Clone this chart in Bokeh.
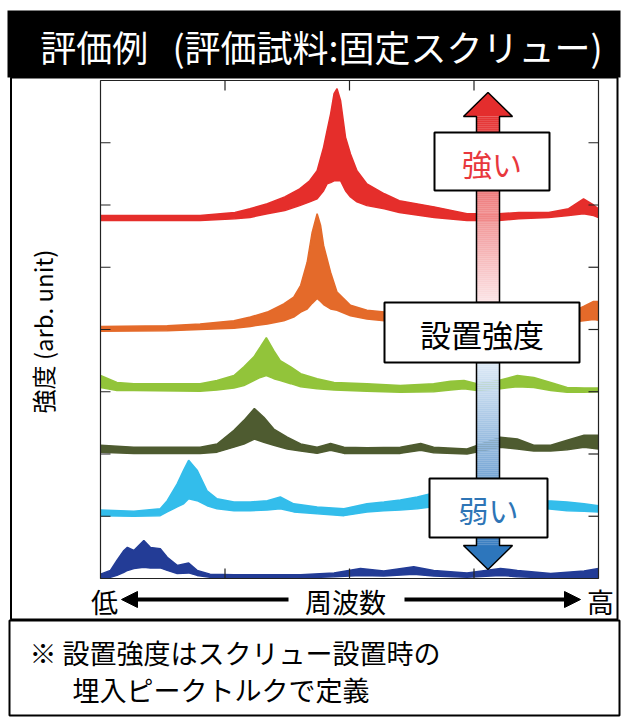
import numpy as np
from bokeh.plotting import figure
from bokeh.models import Range1d, Arrow, NormalHead
from bokeh.core.properties import value
from bokeh.embed import file_html
from bokeh.resources import INLINE

# ---------------- data ----------------
# frequency axis: arbitrary 0..100, intensity: arbitrary 0..8 (offset spectra)
red_x = [0, 20, 27, 30, 33.5, 37, 40, 42, 43.5, 44.8, 45.5, 46.2, 46.9, 47.5, 48.2, 49.2, 50.2, 51.5, 53.5, 57, 60, 67, 73.6, 80, 84, 90, 94, 97, 99, 100]
red_lo = [5.75, 5.75, 5.78, 5.80, 5.86, 5.91, 5.99, 6.05, 6.10, 6.23, 6.34, 6.36, 6.39, 6.39, 6.39, 6.23, 6.13, 6.05, 5.99, 5.94, 5.88, 5.80, 5.75, 5.75, 5.78, 5.80, 5.83, 5.86, 5.83, 5.80]
red_hi = [5.83, 5.83, 5.88, 5.94, 6.02, 6.13, 6.26, 6.39, 6.55, 6.93, 7.20, 7.46, 7.79, 7.87, 7.68, 7.09, 6.82, 6.55, 6.34, 6.18, 6.07, 5.97, 5.86, 5.86, 5.88, 5.88, 5.94, 6.10, 6.00, 5.94]

orange_x = [0, 13.4, 20, 26.8, 30.1, 33.5, 36.8, 38.8, 40.2, 41.5, 42.5, 43.5, 44.2, 44.8, 46.2, 47.5, 50.2, 53.5, 57, 65, 75, 85, 92, 95, 97, 99, 100]
orange_lo = [3.97, 3.98, 4.00, 4.02, 4.05, 4.09, 4.14, 4.20, 4.28, 4.33, 4.42, 4.50, 4.45, 4.40, 4.33, 4.31, 4.22, 4.17, 4.14, 4.08, 4.05, 4.06, 4.08, 4.12, 4.14, 4.16, 4.15]
orange_hi = [4.05, 4.06, 4.09, 4.14, 4.20, 4.28, 4.41, 4.52, 4.71, 5.08, 5.56, 5.86, 5.67, 5.35, 4.92, 4.60, 4.39, 4.31, 4.28, 4.22, 4.18, 4.18, 4.20, 4.30, 4.37, 4.45, 4.45]

green_x = [0, 3.3, 6.7, 20, 23.4, 26.8, 28.8, 30.8, 32.1, 33.3, 34.8, 36.1, 38.2, 40.2, 43.5, 46.9, 53.5, 60.2, 66.9, 70.3, 73, 75.6, 80.3, 83.7, 87, 90.4, 93.7, 97.1, 100]
green_lo = [3.07, 3.02, 3.02, 3.01, 3.03, 3.06, 3.10, 3.18, 3.23, 3.26, 3.21, 3.18, 3.13, 3.08, 3.05, 3.03, 3.01, 2.99, 3.00, 3.03, 3.05, 3.02, 3.05, 3.08, 3.07, 3.02, 2.99, 2.99, 3.00]
green_hi = [3.26, 3.15, 3.13, 3.13, 3.18, 3.26, 3.40, 3.56, 3.72, 3.87, 3.66, 3.50, 3.40, 3.29, 3.21, 3.15, 3.13, 3.10, 3.13, 3.17, 3.18, 3.13, 3.19, 3.26, 3.23, 3.15, 3.07, 3.06, 3.06]

olive_x = [0, 6.7, 20, 23.4, 26.8, 28.8, 30.9, 32.8, 34.8, 37.5, 40.2, 43.5, 46.2, 48.9, 53.5, 60.2, 64.3, 66.9, 73.6, 80.3, 83.7, 87, 90.4, 93.7, 97.1, 100]
olive_lo = [2.03, 2.01, 2.01, 2.03, 2.11, 2.16, 2.24, 2.19, 2.14, 2.08, 2.05, 2.01, 2.06, 2.01, 2.01, 2.01, 2.06, 2.02, 2.00, 2.11, 2.08, 2.05, 2.05, 2.07, 2.11, 2.08]
olive_hi = [2.14, 2.11, 2.11, 2.16, 2.38, 2.54, 2.73, 2.59, 2.40, 2.27, 2.16, 2.11, 2.17, 2.11, 2.10, 2.11, 2.17, 2.11, 2.08, 2.27, 2.24, 2.14, 2.14, 2.22, 2.30, 2.30]

cyan_x = [0, 6.7, 12, 13.4, 15.4, 16.7, 17.7, 19.4, 21.4, 23.4, 26.8, 30.1, 33.5, 36.1, 38.8, 43.5, 48.9, 53.5, 56.9, 60.2, 63.6, 66.3, 72, 80, 88, 89.7, 93.7, 97.1, 100]
cyan_lo = [1.01, 1.00, 1.01, 1.07, 1.15, 1.20, 1.28, 1.25, 1.17, 1.12, 1.09, 1.09, 1.10, 1.12, 1.07, 1.04, 1.01, 1.07, 1.09, 1.10, 1.12, 1.15, 1.16, 1.14, 1.13, 1.12, 1.09, 1.08, 1.07]
cyan_hi = [1.10, 1.08, 1.12, 1.25, 1.52, 1.74, 1.90, 1.74, 1.41, 1.28, 1.23, 1.23, 1.25, 1.31, 1.20, 1.15, 1.12, 1.20, 1.23, 1.26, 1.31, 1.36, 1.36, 1.32, 1.28, 1.25, 1.23, 1.20, 1.17]

navy_x = [0, 2, 3.3, 4.7, 5.4, 6.7, 8.7, 10, 12, 13.4, 15.4, 17.7, 19.4, 22, 26.8, 33.5, 40.2, 46.9, 52.2, 56.9, 62.9, 66.9, 73.6, 80.3, 83.7, 90.4, 97.1, 100]
navy_lo = [0.01, 0.02, 0.05, 0.10, 0.13, 0.16, 0.18, 0.17, 0.17, 0.13, 0.08, 0.09, 0.05, 0.02, 0.02, 0.02, 0.01, 0.03, 0.05, 0.04, 0.07, 0.04, 0.02, 0.05, 0.03, 0.01, 0.02, 0.02]
navy_hi = [0.07, 0.13, 0.29, 0.45, 0.50, 0.45, 0.61, 0.50, 0.48, 0.34, 0.21, 0.25, 0.13, 0.07, 0.06, 0.06, 0.06, 0.09, 0.16, 0.12, 0.19, 0.13, 0.09, 0.16, 0.13, 0.08, 0.12, 0.16]

series_colors = ["#E52E2B", "#E46A2A", "#92C43A", "#4E5B30", "#33BDEB", "#233C96"]

x_ticks = [25, 50, 75]
y_ticks = [1, 2, 3, 4, 5, 6, 7]

title_text = "評価例\u00a0\u00a0\u00a0(評価試料:固定スクリュー)"
y_label = "強度 (arb. unit)"
x_low, x_label, x_high = "低", "周波数", "高"
strong_text, setting_text, weak_text = "強い", "設置強度", "弱い"
note_line1 = "※ 設置強度はスクリュー設置時の"
note_line2 = "埋入ピークトルクで定義"

# ---------------- layout (page pixel geometry) ----------------
W, H = 627, 719
PX0, PY0 = 0, 0                     # page offset of canvas
FX0, FX1 = 100, 598                 # page x of freq 0 and 100
AY0, AY1 = 578, 80                  # page y of intensity 0 and 8
FONT = value("Noto Sans CJK JP")

p = figure(width=W, height=H, output_backend="svg", toolbar_location=None,
           x_range=Range1d(PX0, PX0 + W), y_range=Range1d(PY0 + H, PY0),
           x_axis_location=None, y_axis_location=None, min_border=0,
           background_fill_color="white", border_fill_color="white")
p.outline_line_color = None
p.grid.visible = False

fx_per = (FX1 - FX0) / 100.0
ay_per = (AY0 - AY1) / 8.0
p.extra_x_ranges = {"f": Range1d(0 - (FX0 - PX0) / fx_per, 100 + (PX0 + W - FX1) / fx_per)}
p.extra_y_ranges = {"a": Range1d(0 - (PY0 + H - AY0) / ay_per, 8 + (AY1 - PY0) / ay_per)}
ex = dict(x_range_name="f", y_range_name="a")

# title bar
p.quad(left=[7], right=[620], top=[10], bottom=[77], fill_color="black", line_color=None)
p.text(x=[321], y=[45], text=[title_text], text_color="white", text_font=FONT,
       text_font_size="36px", text_align="center", text_baseline="middle")

# outer box
p.quad(left=[10.5], right=[617], top=[77], bottom=[619], fill_color=None,
       line_color="black", line_width=2)

# spectra
for xs, lo, hi, c in [(red_x, red_lo, red_hi, series_colors[0]),
                      (orange_x, orange_lo, orange_hi, series_colors[1]),
                      (green_x, green_lo, green_hi, series_colors[2]),
                      (olive_x, olive_lo, olive_hi, series_colors[3]),
                      (cyan_x, cyan_lo, cyan_hi, series_colors[4]),
                      (navy_x, navy_lo, navy_hi, series_colors[5])]:
    p.varea(x=xs, y1=lo, y2=hi, fill_color=c, **ex)
    p.line(x=xs, y=lo, line_color=c, line_width=1.5, **ex)
    p.line(x=xs, y=hi, line_color=c, line_width=1.5, **ex)

# plot frame and inward ticks
p.quad(left=[0], right=[100], bottom=[0], top=[8], fill_color=None,
       line_color="#222222", line_width=1.2, **ex)
tl_a = 10 / ay_per
tl_f = 10 / fx_per
n = len(x_ticks)
p.segment(x0=x_ticks, y0=[0] * n, x1=x_ticks, y1=[tl_a] * n, line_color="#222222", line_width=1.2, **ex)
p.segment(x0=x_ticks, y0=[8] * n, x1=x_ticks, y1=[8 - tl_a] * n, line_color="#222222", line_width=1.2, **ex)
m = len(y_ticks)
p.segment(x0=[0] * m, y0=y_ticks, x1=[tl_f] * m, y1=y_ticks, line_color="#222222", line_width=1.2, **ex)
p.segment(x0=[100] * m, y0=y_ticks, x1=[100 - tl_f] * m, y1=y_ticks, line_color="#222222", line_width=1.2, **ex)

# gradient arrow
def lerp(c0, c1, t):
    t = min(max(t, 0.0), 1.0)
    return "#%02x%02x%02x" % tuple(int(round(a + (b - a) * t)) for a, b in zip(c0, c1))

SX0, SX1, SC = 476, 499, 487.5
HX0, HX1 = 463, 512
red0, red1 = (228, 45, 45), (252, 230, 232)
blue0, blue1 = (220, 233, 246), (44, 116, 188)

ys = np.arange(116, 302, 2)
p.quad(left=[SX0] * len(ys), right=[SX1] * len(ys), top=list(ys), bottom=list(ys + 2.2),
       fill_color=[lerp(red0, red1, (y - 110) / (302 - 110)) for y in ys], line_color=None)
p.patch(x=[HX0, SC, HX1], y=[116, 92, 116], fill_color=lerp(red0, red1, 0), line_color=None)
p.patch(x=[SX0, SX0, HX0, SC, HX1, SX1, SX1], y=[302, 116, 116, 92, 116, 116, 302],
        fill_color=None, line_color="black", line_width=1.5)

ys2 = np.arange(362, 546, 2)
p.quad(left=[SX0] * len(ys2), right=[SX1] * len(ys2), top=list(ys2), bottom=list(ys2 + 2.2),
       fill_color=[lerp(blue0, blue1, (y - 362) / (560 - 362)) for y in ys2], line_color=None)
p.patch(x=[HX0, SC, HX1], y=[545, 569, 545], fill_color="#2D76BC", line_color=None)
p.patch(x=[SX0, SX0, HX0, SC, HX1, SX1, SX1], y=[362, 545, 545, 569, 545, 545, 362],
        fill_color=None, line_color="black", line_width=1.5)

# label boxes
p.quad(left=[434, 384, 429], right=[549, 579, 547], top=[132, 302, 478], bottom=[190, 362, 537],
       fill_color="white", line_color="black", line_width=2)
p.text(x=[491.5], y=[162], text=[strong_text], text_color="#E8383D", text_font=FONT,
       text_font_size="30px", text_align="center", text_baseline="middle")
p.text(x=[481.5], y=[333], text=[setting_text], text_color="black", text_font=FONT,
       text_font_size="31px", text_align="center", text_baseline="middle")
p.text(x=[488], y=[508], text=[weak_text], text_color="#2E75B6", text_font=FONT,
       text_font_size="30px", text_align="center", text_baseline="middle")

# y label
p.text(x=[42], y=[331], text=[y_label], angle=np.pi / 2, text_color="black", text_font=FONT,
       text_font_size="24px", text_align="center", text_baseline="middle")

# x label with arrows
p.text(x=[104, 345, 600], y=[601, 601, 601], text=[x_low, x_label, x_high], text_color="black",
       text_font=FONT, text_font_size="27px", text_align="center", text_baseline="middle")
p.add_layout(Arrow(end=NormalHead(size=16, fill_color="black", line_color="black"),
                   x_start=288, y_start=599, x_end=121, y_end=599, line_width=4, line_color="black"))
p.add_layout(Arrow(end=NormalHead(size=16, fill_color="black", line_color="black"),
                   x_start=404, y_start=599, x_end=580, y_end=599, line_width=4, line_color="black"))

# note box
p.quad(left=[9], right=[619], top=[620], bottom=[715], fill_color="white",
       line_color="black", line_width=2)
p.text(x=[29], y=[652], text=[note_line1], text_color="black", text_font=FONT,
       text_font_size="27px", text_align="left", text_baseline="middle")
p.text(x=[72], y=[689], text=[note_line2], text_color="black", text_font=FONT,
       text_font_size="27px", text_align="left", text_baseline="middle")

open("out.html", "w").write(file_html(p, INLINE))
